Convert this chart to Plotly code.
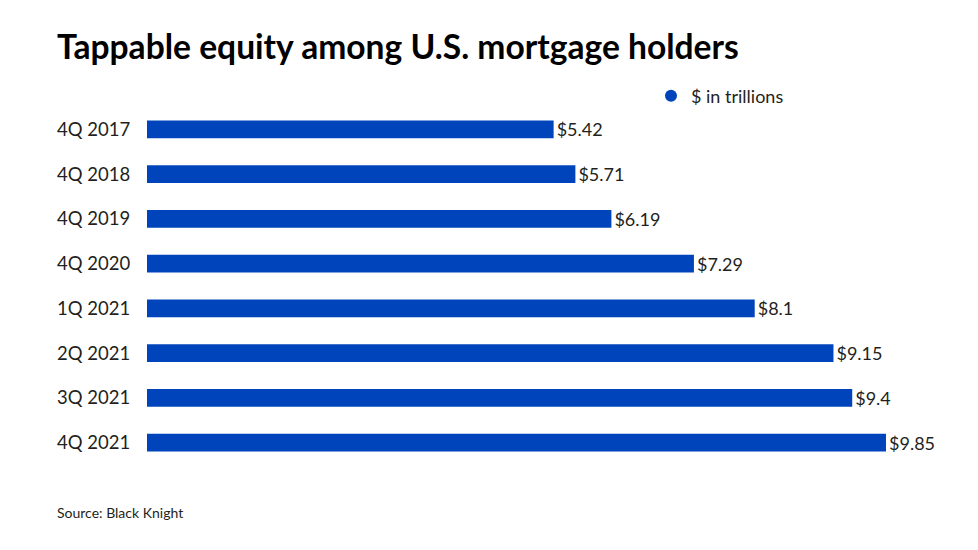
import plotly.graph_objects as go

categories = ["4Q 2017", "4Q 2018", "4Q 2019", "4Q 2020", "1Q 2021", "2Q 2021", "3Q 2021", "4Q 2021"]
values = [5.42, 5.71, 6.19, 7.29, 8.1, 9.15, 9.4, 9.85]
series_name = "$ in trillions"
title_text = "Tappable equity among U.S. mortgage holders"
source_text = "Source: Black Knight"

BLUE = "#0044BB"
FONT = "Lato, 'Noto Sans', sans-serif"

# page body has an 8px offset; compensate
OFF = 8
L, R, T, B = 147 - OFF, 978 - (922 - OFF), 107 - OFF, 550 - (465 - OFF)
PW = 978 - L - R
PH = 550 - T - B

fig = go.Figure()
fig.add_trace(go.Bar(
    x=values, y=categories, orientation="h",
    marker=dict(color=BLUE, line=dict(width=0)),
    text=[f"${v:g}" for v in values],
    textposition="outside",
    constraintext="none",
    textfont=dict(family=FONT, size=18, color="#231f20"),
    cliponaxis=False,
    showlegend=False,
))
fig.add_trace(go.Scatter(
    x=[None], y=[None], mode="markers", name=series_name,
    marker=dict(color=BLUE, size=14, symbol="circle"),
    showlegend=True,
))

fig.update_layout(
    width=978, height=550,
    margin=dict(l=L, r=R, t=T, b=B),
    paper_bgcolor="white", plot_bgcolor="white",
    bargap=0.6,
    font=dict(family=FONT, size=18, color="#231f20"),
    title=dict(text=f"<b>{title_text}</b>", x=(57 - OFF) / 978, xanchor="left",
               y=1 - (47 - OFF) / 550, yanchor="middle",
               font=dict(family=FONT, size=33.6, color="#000000")),
    legend=dict(orientation="h", x=(651 - 147) / PW, xanchor="left",
                y=1 + (107 - 96) / PH, yanchor="middle",
                font=dict(family=FONT, size=18, color="#231f20"),
                bgcolor="rgba(0,0,0,0)", itemsizing="constant"),
    xaxis=dict(range=[0, 10.33], visible=False, showgrid=False, zeroline=False, fixedrange=True),
    yaxis=dict(autorange="reversed", showgrid=False, zeroline=False, showline=False,
               ticks="outside", ticklen=12, tickcolor="rgba(0,0,0,0)",
               tickfont=dict(family=FONT, size=18.5, color="#231f20")),
    annotations=[dict(text=source_text, xref="paper", yref="paper",
                      x=(55 - 147) / PW, xanchor="left",
                      y=-(512 - 465) / PH, yanchor="middle", showarrow=False,
                      font=dict(family=FONT, size=14, color="#231f20"))],
)

fig.write_html("out.html")
